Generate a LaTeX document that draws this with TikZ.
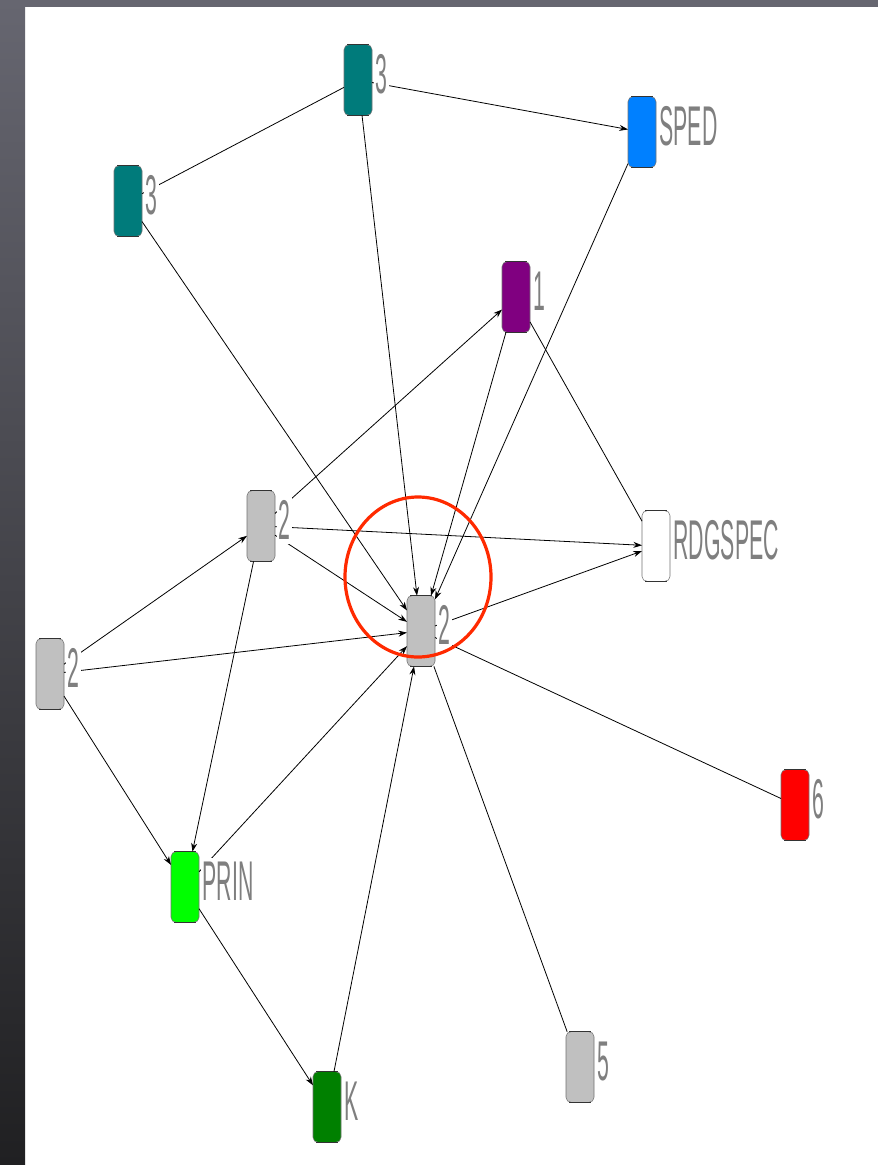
\documentclass[tikz,border=0pt]{standalone}
\usepackage{fontspec}
\newfontfamily\lblfont[FakeStretch=0.38]{Liberation Sans}
\usetikzlibrary{arrows.meta}
\definecolor{cteal}{HTML}{007B7B}
\definecolor{cblue}{HTML}{0080FF}
\definecolor{cpurple}{HTML}{800080}
\definecolor{cgray}{HTML}{C0C0C0}
\definecolor{cred}{HTML}{FF0000}
\definecolor{cgreen}{HTML}{00FF00}
\definecolor{cdkgreen}{HTML}{008000}
\definecolor{ctext}{HTML}{7F7F7F}
\definecolor{cring}{HTML}{FF2A00}
\definecolor{cframetop}{HTML}{666670}
\definecolor{cframebot}{HTML}{202022}
\begin{document}
\begin{tikzpicture}[x=0.75pt,y=-0.75pt,
  box/.style={draw=black!55, line width=0.4pt, rounded corners=3.75pt,
    minimum width=21pt, minimum height=53pt, inner sep=0pt, outer sep=0pt},
  lbl/.style={anchor=west, fill=white, inner xsep=1.2pt, inner ysep=3pt,
    outer sep=0pt, text=ctext, font=\lblfont\fontsize{42}{42}\selectfont},
  edge/.style={line width=0.6pt, black},
  arr/.style={edge, -{Stealth[length=6.5pt,width=4.5pt]}},
  ring/.style={draw=cring, line width=2.4pt}]
\useasboundingbox (0,0) rectangle (878,1165);
\fill[white] (0,0) rectangle (878,1165);
\fill[cframetop] (0,0) rectangle (878,7);
\shade[top color=cframetop, bottom color=cframebot] (0,0) rectangle (25,1165);

% boxes
\node[box, fill=cteal]   (A)    at (358,80)   {};
\node[box, fill=cteal]   (B)    at (128,201)  {};
\node[box, fill=cblue]   (SPED) at (642,132)  {};
\node[box, fill=cpurple] (P1)   at (516,297)  {};
\node[box, fill=cgray]   (M)    at (261,526)  {};
\node[box, fill=cgray]   (C)    at (421,631)  {};
\node[box, fill=white]   (R)    at (656,546)  {};
\node[box, fill=cgray]   (L)    at (50,674)   {};
\node[box, fill=cred]    (SIX)  at (795,805)  {};
\node[box, fill=cgreen]  (PRIN) at (185,887)  {};
\node[box, fill=cdkgreen](K)    at (327,1107) {};
\node[box, fill=cgray]   (FIVE) at (580,1067) {};

\foreach \n in {A,B,SPED,P1,M,C,R,L,SIX,PRIN,K,FIVE}{
  \draw[line width=1pt, black!80] ([xshift=2.6pt]\n.north west) -- ([xshift=-2.6pt]\n.north east);
  \draw[line width=1pt, black!80] ([xshift=2.6pt]\n.south west) -- ([xshift=-2.6pt]\n.south east);
}

% connectors
\draw[edge] (B) -- (A);
\draw[arr]  (A) -- (SPED);
\draw[arr]  (A) -- (C);
\draw[arr]  (B) -- (C);
\draw[arr]  (SPED) -- (C);
\draw[arr]  (P1) -- (C);
\draw[edge] (P1) -- (R);
\draw[arr]  (M) -- (P1);
\draw[arr]  (M) -- (R);
\draw[arr]  (M) -- (C);
\draw[arr]  (M) -- (PRIN);
\draw[arr]  (L) -- (M);
\draw[arr]  (L) -- (C);
\draw[arr]  (L) -- (PRIN);
\draw[arr]  (PRIN) -- (C);
\draw[arr]  (PRIN) -- (K);
\draw[arr]  (K) -- (C);
\draw[arr]  (C) -- (R);
\draw[edge] (C) -- (SIX);
\draw[edge] (C) -- (FIVE);

% labels
\node[lbl] (Al)    at ([xshift=1.5pt,yshift=4.5pt]A.east)    {3};
\node[lbl] (Bl)    at ([xshift=1.5pt,yshift=4.5pt]B.east)    {3};
\node[lbl] (SPEDl) at ([xshift=1.5pt,yshift=4.5pt]SPED.east) {SPED};
\node[lbl] (P1l)   at ([xshift=1.5pt,yshift=4.5pt]P1.east)   {1};
\node[lbl] (Ml)    at ([xshift=1.5pt,yshift=4.5pt]M.east)    {2};
\node[lbl] (Cl)    at ([xshift=1.5pt,yshift=4.5pt]C.east)    {2};
\node[lbl] (Rl)    at ([xshift=1.5pt,yshift=4.5pt]R.east)    {RDGSPEC};
\node[lbl] (Ll)    at ([xshift=1.5pt,yshift=4.5pt]L.east)    {2};
\node[lbl] (SIXl)  at ([xshift=1.5pt,yshift=4.5pt]SIX.east)  {6};
\node[lbl] (PRINl) at ([xshift=1.5pt,yshift=4.5pt]PRIN.east) {PRIN};
\node[lbl] (Kl)    at ([xshift=1.5pt,yshift=4.5pt]K.east)    {K};
\node[lbl] (FIVEl) at ([xshift=1.5pt,yshift=4.5pt]FIVE.east) {5};

% highlight ring
\draw[ring] (418,577) ellipse [x radius=54.75pt, y radius=60pt];
\end{tikzpicture}
\end{document}
